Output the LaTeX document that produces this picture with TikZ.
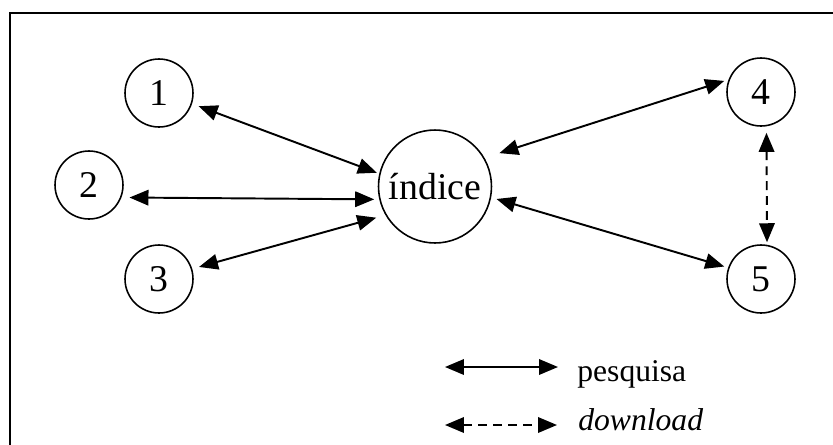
\documentclass[tikz,border=0pt]{standalone}
\usepackage{fontspec}
\setmainfont{Liberation Serif}
\usetikzlibrary{arrows.meta}

\tikzset{
	peer/.style={circle, draw, line width=0.9pt, minimum size=1.36cm, inner sep=0pt, font=\fontsize{21.5}{26}\selectfont},
	hub/.style={peer, minimum size=2.26cm},
	link/.style={line width=1.1pt, {Triangle[length=0.38cm,width=0.31cm]}-{Triangle[length=0.38cm,width=0.31cm]}},
	legend/.style={anchor=base west, inner sep=0pt, font=\fontsize{18}{22}\selectfont}
}

\begin{document}
\begin{tikzpicture}[x=0.02cm, y=-0.02cm]
	\clip (0,0) rectangle (833,444);
	\useasboundingbox (0,0) rectangle (833,444);
	\draw[line width=1.3pt] (10,13) rectangle (850,460);

	\node(idx) [hub] at (435,186.5) {índice};
	\node(n1) [peer] at (159,93) {1};
	\node(n2) [peer] at (89,185) {2};
	\node(n3) [peer] at (159,279) {3};
	\node(n4) [peer] at (761,92) {4};
	\node(n5) [peer] at (761,279) {5};

	\draw[link, shorten <=0.14cm, shorten >=0.05cm] (n1.-18) --(idx.167);
	\draw[link, shorten <=0.16cm, shorten >=0.10cm] (n2.-21) --(idx.-167);
	\draw[link, shorten <=0.14cm, shorten >=0.19cm] (n3.17) --(idx.-150);
	\draw[link, shorten <=0.31cm, shorten >=0.09cm] (idx.30.5) --(n4.159);
	\draw[link, shorten <=0.11cm, shorten >=0.08cm] (idx.-11.6) --(n5.161.6);
	\draw[link, dash pattern=on 5pt off 3.5pt, shorten <=0.13cm, shorten >=0.05cm] (n4.-81.5) --(n5.80.5);

	% legenda
	\coordinate(pa) at (445,367);
	\coordinate(pb) at (558,367);
	\coordinate(da) at (445,425);
	\coordinate(db) at (557,425);
	\node(ps) [legend] at (577,381) {pesquisa};
	\node(dl) [legend] at (578,430) {\itshape download};

	\draw[link] (pa) --(pb);
	\draw[link, dash pattern=on 5pt off 3.5pt] (da) --(db);

\end{tikzpicture}
\end{document}
